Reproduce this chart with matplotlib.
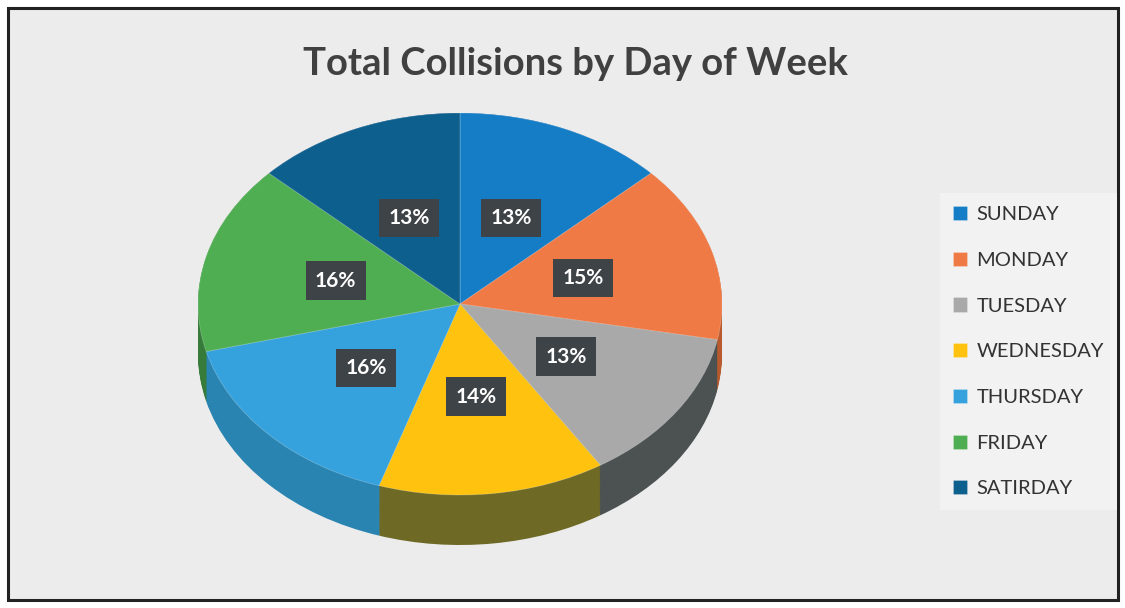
import matplotlib
matplotlib.use("Agg")
import matplotlib.pyplot as plt
from matplotlib.patches import Rectangle

days = ["SUNDAY", "MONDAY", "TUESDAY", "WEDNESDAY", "THURSDAY", "FRIDAY", "SATIRDAY"]
shares = [13, 15, 13, 14, 16, 16, 13]
top_colors = ["#157DC6", "#F07A45", "#A9A9A9", "#FFC20E", "#35A2DD", "#4EAE51", "#0D5F8E"]
side_colors = ["#0F5C94", "#B85A2E", "#4C5252", "#6E6A26", "#2A84B2", "#367B3A", "#0A4468"]
title = "Total Collisions by Day of Week"

W, H = 1125, 608
fig = plt.figure(figsize=(W / 100, H / 100), dpi=100)
fig.patch.set_facecolor("white")
fig.patches.append(Rectangle((8 / W, 8 / H), 1110 / W, 592 / H, transform=fig.transFigure,
                             facecolor="#ECECEC", edgecolor="#222222", linewidth=2.2, zorder=-5))

ax = fig.add_axes([0, 0, 1, 1], zorder=2)
ax.set_facecolor("none")

cx, cy, rx, ry = 460, 304, 262, 191
depth = 50
x0, x1 = -cx / rx, (W - cx) / rx
y0, y1 = -(H - cy) / ry, cy / ry
d = depth / ry

n = 40
for i in range(n + 1):
    off = -d + d * i / n
    ax.pie(shares, colors=side_colors, startangle=90, counterclock=False,
           center=(0, off), radius=1, wedgeprops=dict(linewidth=0))

wedges, texts, autotexts = ax.pie(
    shares, colors=top_colors, startangle=90, counterclock=False,
    center=(0, 0), radius=1, autopct=lambda p: f"{p:.0f}%", pctdistance=0.49,
    wedgeprops=dict(linewidth=0.6, edgecolor=(1, 1, 1, 0.25)),
    textprops=dict(color="white", fontsize=15, fontweight="bold", family="Lato"))
for t in autotexts:
    t.set_bbox(dict(boxstyle="square,pad=0.45", facecolor="#3E4347", edgecolor="none"))

ax.set_aspect("auto")
ax.set_xlim(x0, x1)
ax.set_ylim(y0, y1)
ax.axis("off")

fig.text(575 / W, 1 - 64 / H, title, ha="center", va="center", fontsize=27.5,
         fontweight="bold", color="#404040", family="Lato")

leg = fig.legend(wedges, days, loc="upper left", bbox_to_anchor=(940 / W, 1 - 193 / H),
                 frameon=True, handlelength=0.7, handleheight=0.7,
                 handletextpad=0.45, labelspacing=1.42, borderpad=0.65, borderaxespad=0,
                 prop=dict(family="Lato", size=14.5))
leg.get_frame().set_facecolor("#F4F4F4")
leg.get_frame().set_edgecolor("none")
leg.get_frame().set_boxstyle("square,pad=0")
leg.set_zorder(3)
for t in leg.get_texts():
    t.set_color("#333333")

fig.savefig("out.png", dpi=100)
